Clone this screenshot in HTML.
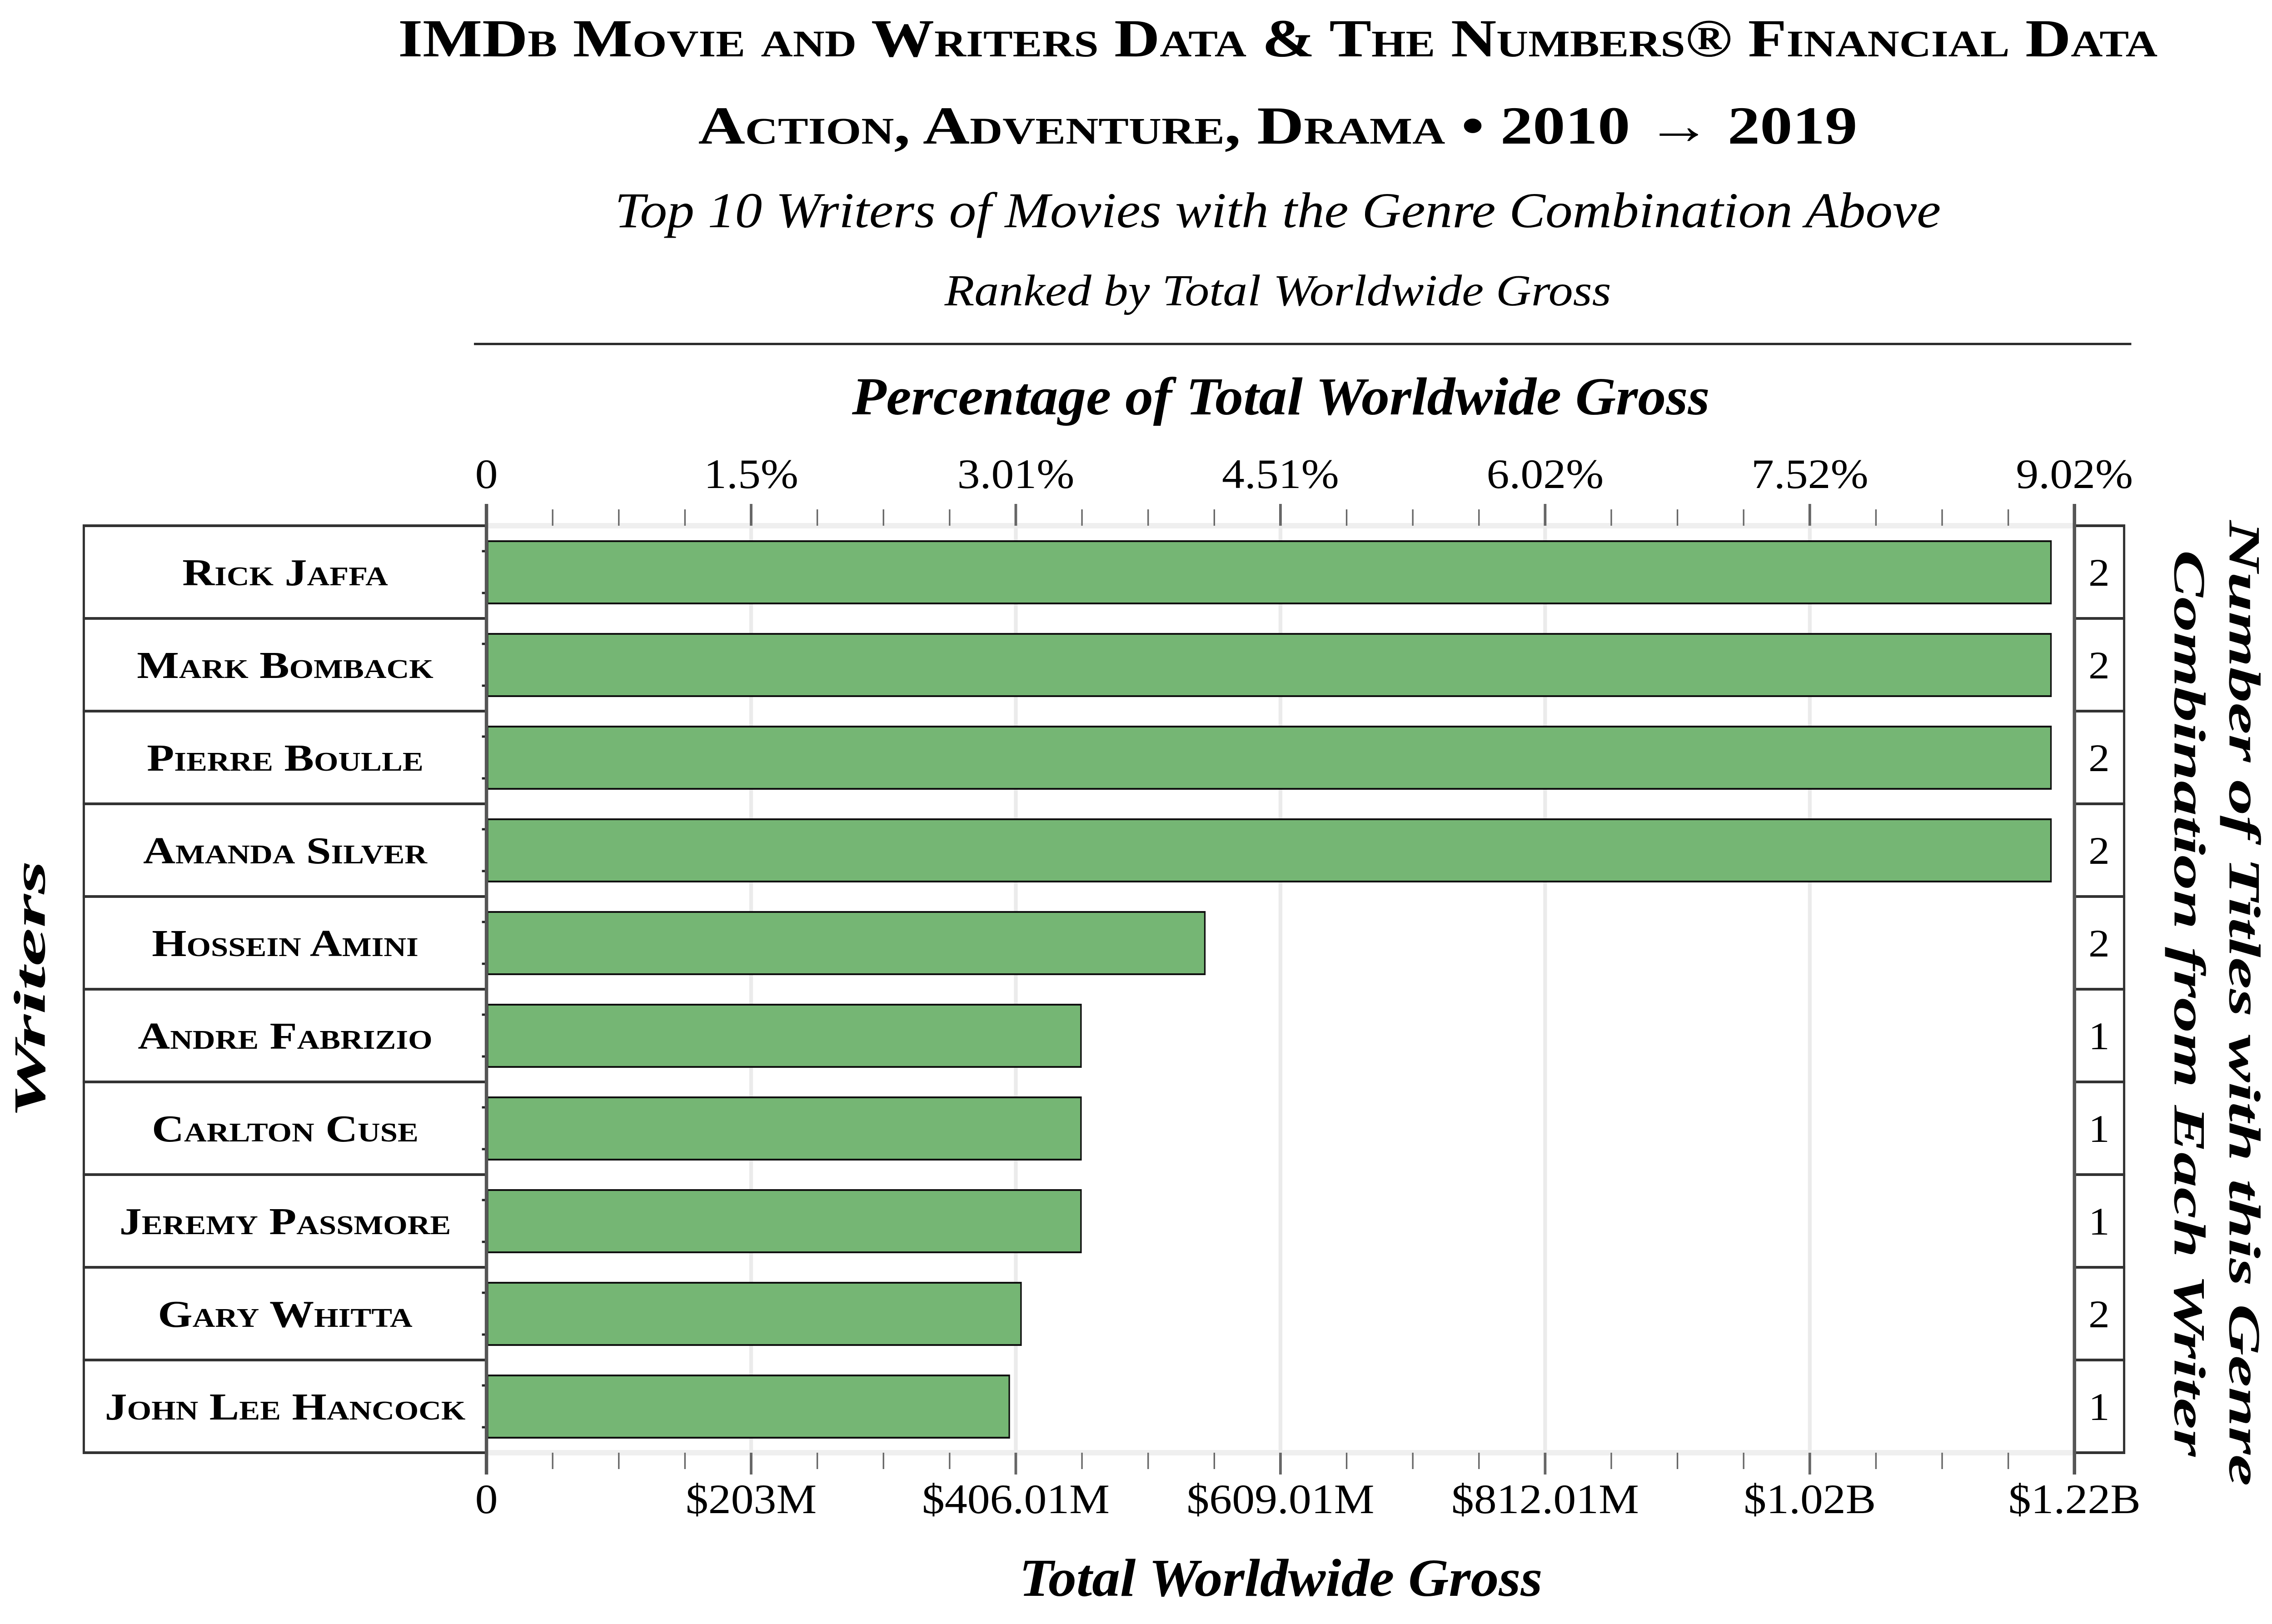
<!DOCTYPE html>
<html><head><meta charset="utf-8"><style>
html,body{margin:0;padding:0;background:#fff;width:100%;height:100%;overflow:hidden;}
svg{display:block;width:100vw;height:100vh;}
text{font-family:"Liberation Serif","DejaVu Serif",serif;fill:#000;}
</style></head><body>
<svg id="chart" xmlns="http://www.w3.org/2000/svg" viewBox="0 0 5992 3574" preserveAspectRatio="none">
<rect width="5992" height="3574" fill="#fff"/>
<text x="3370" y="124" text-anchor="middle" font-size="118" font-weight="bold" style="font-variant:small-caps" textLength="4640" lengthAdjust="spacingAndGlyphs">IMDb Movie and Writers Data &amp; The Numbers® Financial Data</text>
<text x="3370" y="316" text-anchor="middle" font-size="118" font-weight="bold" style="font-variant:small-caps" textLength="3057" lengthAdjust="spacingAndGlyphs">Action, Adventure, Drama • 2010 → 2019</text>
<text x="3370" y="500" text-anchor="middle" font-size="110" font-style="italic" textLength="3497" lengthAdjust="spacingAndGlyphs">Top 10 Writers of Movies with the Genre Combination Above</text>
<text x="3370" y="672" text-anchor="middle" font-size="98" font-style="italic" textLength="1758" lengthAdjust="spacingAndGlyphs">Ranked by Total Worldwide Gross</text>
<line x1="1250" y1="757" x2="5621" y2="757" stroke="#222" stroke-width="5"/>
<text x="3378" y="912" text-anchor="middle" font-size="118" font-weight="bold" font-style="italic" textLength="2262" lengthAdjust="spacingAndGlyphs">Percentage of Total Worldwide Gross</text>
<text x="3378" y="3512" text-anchor="middle" font-size="118" font-weight="bold" font-style="italic" textLength="1380" lengthAdjust="spacingAndGlyphs">Total Worldwide Gross</text>
<text transform="translate(118,2178) rotate(-90)" text-anchor="middle" font-size="118" font-weight="bold" font-style="italic" textLength="569" lengthAdjust="spacingAndGlyphs">Writers</text>
<text transform="translate(5880,2208) rotate(90)" text-anchor="middle" font-size="118" font-weight="bold" font-style="italic" textLength="2125" lengthAdjust="spacingAndGlyphs">Number of Titles with this Genre</text>
<text transform="translate(5735,2208) rotate(90)" text-anchor="middle" font-size="118" font-weight="bold" font-style="italic" textLength="1995" lengthAdjust="spacingAndGlyphs">Combination from Each Writer</text>
<g id="plot"></g>
</svg>
<script>
const writers = ["Rick Jaffa","Mark Bomback","Pierre Boulle","Amanda Silver","Hossein Amini","Andre Fabrizio","Carlton Cuse","Jeremy Passmore","Gary Whitta","John Lee Hancock"];
const grossM = [1200,1200,1200,1200,551,456,456,456,410,401];
const titleCounts = [2,2,2,2,2,1,1,1,2,1];
const tickValuesM = [0,203,406.01,609.01,812.01,1015.02,1218.02];
const bottomTickLabels = ["0","$203M","$406.01M","$609.01M","$812.01M","$1.02B","$1.22B"];
const topTickLabels = ["0","1.5%","3.01%","4.51%","6.02%","7.52%","9.02%"];

const NS = "http://www.w3.org/2000/svg";
const g = document.getElementById('plot');
const X0 = 1283, X1 = 5471, maxM = 1218.02;
const Y0 = 1157, rowH = 204, nRows = writers.length, Y1 = Y0 + rowH*nRows;
const x = v => X0 + (v/maxM)*(X1-X0);
const yRow = i => Y0 + rowH*i;
function mk(tag, attrs){const e=document.createElementNS(NS,tag);for(const k in attrs)e.setAttribute(k,attrs[k]);g.appendChild(e);return e;}

let e;
e = mk('rect',{x:X0,y:Y0-6,width:X1-X0,height:12,fill:'#efefef'});


e = mk('rect',{x:X0,y:Y1-6,width:X1-X0,height:12,fill:'#efefef'});



for(let t=0;t<tickValuesM.length;t++){
  const xv = x(tickValuesM[t]);
  if(t>0 && t<tickValuesM.length-1){
    e = mk('line',{x1:xv,y1:Y0,x2:xv,y2:Y1,stroke:'#ebebeb','stroke-width':10});
    
    
  }
  e = mk('line',{x1:xv,y1:Y0-48,x2:xv,y2:Y0,stroke:'#666','stroke-width':7});
  
  
  e = mk('line',{x1:xv,y1:Y1,x2:xv,y2:Y1+48,stroke:'#666','stroke-width':7});
  
  
  e = mk('text',{transform:'translate('+xv+',1074) scale(1.3,1)','text-anchor':'middle','font-size':92});
  e.textContent = topTickLabels[t];
  
  
  e = mk('text',{transform:'translate('+xv+',3330) scale(1.3,1)','text-anchor':'middle','font-size':92});
  e.textContent = bottomTickLabels[t];
  
  
  if(t<tickValuesM.length-1){
    for(let m=1;m<4;m++){
      const xm = x(tickValuesM[t] + (tickValuesM[t+1]-tickValuesM[t])*m/4);
      e = mk('line',{x1:xm,y1:Y0-36,x2:xm,y2:Y0,stroke:'#666','stroke-width':4});
      
      
      e = mk('line',{x1:xm,y1:Y1,x2:xm,y2:Y1+36,stroke:'#666','stroke-width':4});
      
      
    }
  }
}

for(let i=0;i<nRows;i++){
  const yt = yRow(i), yc = yt + rowH/2;
  e = mk('rect',{x:221,y:yt,width:X0-221,height:rowH,fill:'none',stroke:'#333','stroke-width':6});
  
  
  e = mk('text',{transform:'translate(752,'+(yc+29)+') scale(1.4,1)','text-anchor':'middle','font-size':84,'font-weight':'bold',style:'font-variant:small-caps'});
  e.textContent = writers[i];
  
  
  e = mk('rect',{x:X1,y:yt,width:5602-X1,height:rowH,fill:'none',stroke:'#333','stroke-width':6});
  
  
  e = mk('text',{transform:'translate(5536,'+(yc+30)+') scale(1.3,1)','text-anchor':'middle','font-size':86});
  e.textContent = titleCounts[i];
  
  
  e = mk('rect',{x:x(0)+3,y:yc-68,width:x(grossM[i])-x(0)-3,height:137,fill:'#75b674',stroke:'#111','stroke-width':4});
  
  
  for(const dy of [-46,46]){
    e = mk('line',{x1:X0-12,y1:yc+dy,x2:X0,y2:yc+dy,stroke:'#222','stroke-width':5});
    
    
  }
}

e = mk('line',{x1:X0,y1:Y0-48,x2:X0,y2:Y1+48,stroke:'#555','stroke-width':9});


e = mk('line',{x1:X1,y1:Y0-48,x2:X1,y2:Y1+48,stroke:'#555','stroke-width':9});


</script>
</body></html>
